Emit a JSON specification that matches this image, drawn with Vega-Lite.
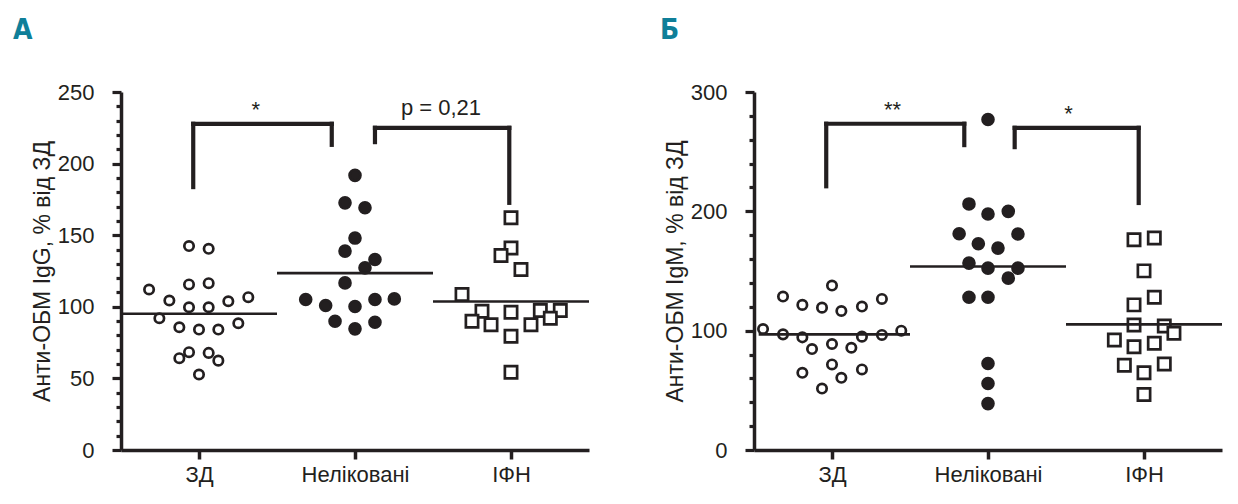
{
  "$schema": "https://vega.github.io/schema/vega-lite/v6.json",
  "background": "white",
  "padding": {"left": 13, "top": 17, "right": 5, "bottom": 5},
  "spacing": 69,
  "config": {
    "view": {"stroke": null},
    "font": "Liberation Sans",
    "axis": {
      "grid": false,
      "labelColor": "#231f20",
      "labelFont": "Liberation Sans",
      "labelFontSize": 22,
      "labelOverlap": false,
      "labelFlush": false,
      "titleFont": "Liberation Sans",
      "titleFontSize": 23,
      "titleFontWeight": "normal",
      "titleColor": "#231f20"
    },
    "title": {
      "font": "DejaVu Sans Condensed, Liberation Sans Narrow, Liberation Sans",
      "fontSize": 28,
      "fontWeight": "bold",
      "color": "#0f7f99",
      "anchor": "start",
      "frame": "group"
    }
  },
  "datasets": {
    "points": [
      {"panel": "A", "group": "ЗД", "x": 0.936, "y": 142.4},
      {"panel": "A", "group": "ЗД", "x": 1.062, "y": 140.5},
      {"panel": "A", "group": "ЗД", "x": 0.936, "y": 115.6},
      {"panel": "A", "group": "ЗД", "x": 1.062, "y": 116.5},
      {"panel": "A", "group": "ЗД", "x": 0.68, "y": 112.1},
      {"panel": "A", "group": "ЗД", "x": 0.81, "y": 104.4},
      {"panel": "A", "group": "ЗД", "x": 0.936, "y": 99.7},
      {"panel": "A", "group": "ЗД", "x": 1.062, "y": 99.7},
      {"panel": "A", "group": "ЗД", "x": 1.188, "y": 103.9},
      {"panel": "A", "group": "ЗД", "x": 1.316, "y": 106.7},
      {"panel": "A", "group": "ЗД", "x": 0.746, "y": 92.0},
      {"panel": "A", "group": "ЗД", "x": 0.874, "y": 85.7},
      {"panel": "A", "group": "ЗД", "x": 1.0, "y": 84.1},
      {"panel": "A", "group": "ЗД", "x": 1.124, "y": 84.1},
      {"panel": "A", "group": "ЗД", "x": 1.252, "y": 88.5},
      {"panel": "A", "group": "ЗД", "x": 0.936, "y": 68.3},
      {"panel": "A", "group": "ЗД", "x": 1.062, "y": 67.8},
      {"panel": "A", "group": "ЗД", "x": 0.874, "y": 64.1},
      {"panel": "A", "group": "ЗД", "x": 1.124, "y": 62.4},
      {"panel": "A", "group": "ЗД", "x": 1.0, "y": 52.7},
      {"panel": "A", "group": "Неліковані", "x": 2.0, "y": 191.8},
      {"panel": "A", "group": "Неліковані", "x": 1.936, "y": 172.6},
      {"panel": "A", "group": "Неліковані", "x": 2.064, "y": 169.2},
      {"panel": "A", "group": "Неліковані", "x": 2.0, "y": 148.0},
      {"panel": "A", "group": "Неліковані", "x": 1.936, "y": 138.9},
      {"panel": "A", "group": "Неліковані", "x": 2.128, "y": 133.0},
      {"panel": "A", "group": "Неліковані", "x": 2.064, "y": 127.2},
      {"panel": "A", "group": "Неліковані", "x": 1.936, "y": 116.7},
      {"panel": "A", "group": "Неліковані", "x": 1.684, "y": 105.1},
      {"panel": "A", "group": "Неліковані", "x": 1.812, "y": 100.9},
      {"panel": "A", "group": "Неліковані", "x": 2.0, "y": 100.2},
      {"panel": "A", "group": "Неліковані", "x": 2.128, "y": 105.1},
      {"panel": "A", "group": "Неліковані", "x": 2.252, "y": 105.5},
      {"panel": "A", "group": "Неліковані", "x": 1.872, "y": 89.9},
      {"panel": "A", "group": "Неліковані", "x": 2.128, "y": 89.2},
      {"panel": "A", "group": "Неліковані", "x": 2.0, "y": 84.6},
      {"panel": "A", "group": "ІФН", "x": 3.0, "y": 162.2},
      {"panel": "A", "group": "ІФН", "x": 3.0, "y": 141.0},
      {"panel": "A", "group": "ІФН", "x": 2.936, "y": 135.8},
      {"panel": "A", "group": "ІФН", "x": 3.064, "y": 126.0},
      {"panel": "A", "group": "ІФН", "x": 2.686, "y": 108.6},
      {"panel": "A", "group": "ІФН", "x": 2.814, "y": 96.9},
      {"panel": "A", "group": "ІФН", "x": 3.0, "y": 96.2},
      {"panel": "A", "group": "ІФН", "x": 3.188, "y": 97.4},
      {"panel": "A", "group": "ІФН", "x": 3.316, "y": 97.4},
      {"panel": "A", "group": "ІФН", "x": 2.75, "y": 89.9},
      {"panel": "A", "group": "ІФН", "x": 2.872, "y": 87.4},
      {"panel": "A", "group": "ІФН", "x": 3.128, "y": 87.4},
      {"panel": "A", "group": "ІФН", "x": 3.252, "y": 92.0},
      {"panel": "A", "group": "ІФН", "x": 3.0, "y": 79.4},
      {"panel": "A", "group": "ІФН", "x": 3.0, "y": 54.3},
      {"panel": "B", "group": "ЗД", "x": 1.0, "y": 137.8},
      {"panel": "B", "group": "ЗД", "x": 0.686, "y": 128.6},
      {"panel": "B", "group": "ЗД", "x": 0.81, "y": 121.6},
      {"panel": "B", "group": "ЗД", "x": 0.936, "y": 119.3},
      {"panel": "B", "group": "ЗД", "x": 1.06, "y": 116.5},
      {"panel": "B", "group": "ЗД", "x": 1.192, "y": 120.2},
      {"panel": "B", "group": "ЗД", "x": 1.32, "y": 126.6},
      {"panel": "B", "group": "ЗД", "x": 0.558, "y": 101.4},
      {"panel": "B", "group": "ЗД", "x": 0.686, "y": 96.9},
      {"panel": "B", "group": "ЗД", "x": 0.81, "y": 94.4},
      {"panel": "B", "group": "ЗД", "x": 0.872, "y": 84.6},
      {"panel": "B", "group": "ЗД", "x": 1.0, "y": 88.8},
      {"panel": "B", "group": "ЗД", "x": 1.124, "y": 85.7},
      {"panel": "B", "group": "ЗД", "x": 1.192, "y": 95.0},
      {"panel": "B", "group": "ЗД", "x": 1.32, "y": 96.4},
      {"panel": "B", "group": "ЗД", "x": 1.444, "y": 100.0},
      {"panel": "B", "group": "ЗД", "x": 1.0, "y": 71.7},
      {"panel": "B", "group": "ЗД", "x": 0.81, "y": 64.7},
      {"panel": "B", "group": "ЗД", "x": 1.192, "y": 67.5},
      {"panel": "B", "group": "ЗД", "x": 1.06, "y": 60.5},
      {"panel": "B", "group": "ЗД", "x": 0.936, "y": 51.5},
      {"panel": "B", "group": "Неліковані", "x": 2.0, "y": 277.0},
      {"panel": "B", "group": "Неліковані", "x": 1.878, "y": 206.2},
      {"panel": "B", "group": "Неліковані", "x": 2.0, "y": 197.8},
      {"panel": "B", "group": "Неліковані", "x": 2.13, "y": 200.0},
      {"panel": "B", "group": "Неліковані", "x": 1.815, "y": 181.2},
      {"panel": "B", "group": "Неліковані", "x": 2.192, "y": 181.0},
      {"panel": "B", "group": "Неліковані", "x": 1.938, "y": 172.8},
      {"panel": "B", "group": "Неліковані", "x": 2.064, "y": 169.2},
      {"panel": "B", "group": "Неліковані", "x": 1.878, "y": 156.6},
      {"panel": "B", "group": "Неліковані", "x": 2.0, "y": 152.4},
      {"panel": "B", "group": "Неліковані", "x": 2.192, "y": 152.4},
      {"panel": "B", "group": "Неліковані", "x": 2.13, "y": 144.0},
      {"panel": "B", "group": "Неліковані", "x": 1.878, "y": 128.0},
      {"panel": "B", "group": "Неліковані", "x": 2.0, "y": 128.0},
      {"panel": "B", "group": "Неліковані", "x": 2.0, "y": 72.5},
      {"panel": "B", "group": "Неліковані", "x": 2.0, "y": 55.7},
      {"panel": "B", "group": "Неліковані", "x": 2.0, "y": 38.9},
      {"panel": "B", "group": "ІФН", "x": 2.936, "y": 176.2},
      {"panel": "B", "group": "ІФН", "x": 3.066, "y": 177.6},
      {"panel": "B", "group": "ІФН", "x": 3.0, "y": 150.1},
      {"panel": "B", "group": "ІФН", "x": 3.066, "y": 128.0},
      {"panel": "B", "group": "ІФН", "x": 2.936, "y": 121.6},
      {"panel": "B", "group": "ІФН", "x": 2.936, "y": 104.8},
      {"panel": "B", "group": "ІФН", "x": 3.13, "y": 103.9},
      {"panel": "B", "group": "ІФН", "x": 3.192, "y": 97.8},
      {"panel": "B", "group": "ІФН", "x": 2.81, "y": 92.2},
      {"panel": "B", "group": "ІФН", "x": 2.936, "y": 86.6},
      {"panel": "B", "group": "ІФН", "x": 3.066, "y": 89.4},
      {"panel": "B", "group": "ІФН", "x": 2.874, "y": 71.1},
      {"panel": "B", "group": "ІФН", "x": 3.13, "y": 72.0},
      {"panel": "B", "group": "ІФН", "x": 3.0, "y": 64.7},
      {"panel": "B", "group": "ІФН", "x": 3.0, "y": 46.5}
    ],
    "medians": [
      {"panel": "A", "x1": 0.51, "x2": 1.5, "y": 95.1},
      {"panel": "A", "x1": 1.5, "x2": 2.5, "y": 123.5},
      {"panel": "A", "x1": 2.5, "x2": 3.5, "y": 103.7},
      {"panel": "B", "x1": 0.53, "x2": 1.5, "y": 96.9},
      {"panel": "B", "x1": 1.5, "x2": 2.5, "y": 153.8},
      {"panel": "B", "x1": 2.5, "x2": 3.5, "y": 105.3}
    ],
    "brackets": [
      {"panel": "A", "x1": 0.963, "x2": 0.963, "y1": 183.6, "y2": 227.8},
      {"panel": "A", "x1": 0.963, "x2": 1.851, "y1": 227.8, "y2": 227.8},
      {"panel": "A", "x1": 1.851, "x2": 1.851, "y1": 227.8, "y2": 213.1},
      {"panel": "A", "x1": 2.128, "x2": 2.128, "y1": 215.0, "y2": 225.0},
      {"panel": "A", "x1": 2.128, "x2": 2.989, "y1": 225.0, "y2": 225.0},
      {"panel": "A", "x1": 2.989, "x2": 2.989, "y1": 225.0, "y2": 172.6},
      {"panel": "B", "x1": 0.963, "x2": 0.963, "y1": 221.0, "y2": 273.4},
      {"panel": "B", "x1": 0.963, "x2": 1.848, "y1": 273.4, "y2": 273.4},
      {"panel": "B", "x1": 1.848, "x2": 1.848, "y1": 273.4, "y2": 255.5},
      {"panel": "B", "x1": 2.171, "x2": 2.171, "y1": 253.8, "y2": 270.0},
      {"panel": "B", "x1": 2.171, "x2": 2.966, "y1": 270.0, "y2": 270.0},
      {"panel": "B", "x1": 2.966, "x2": 2.966, "y1": 270.0, "y2": 207.0}
    ],
    "labels": [
      {"panel": "A", "x": 1.364, "y": 232.8, "label": "*"},
      {"panel": "A", "x": 2.551, "y": 234.1, "label": "p = 0,21"},
      {"panel": "B", "x": 1.388, "y": 279.2, "label": "**"},
      {"panel": "B", "x": 2.517, "y": 275.8, "label": "*"}
    ]
  },
  "hconcat": [
    {
      "title": {"text": "A", "dx": -108, "offset": 36},
      "width": 468,
      "height": 358,
      "encoding": {
        "x": {"type": "quantitative", "scale": {"domain": [0.5, 3.5], "nice": false, "zero": false},
          "axis": {"values": [1, 2, 3], "title": null, "domain": true, "domainWidth": 3.5, "domainColor": "#231f20", "ticks": true, "tickWidth": 3.5, "tickColor": "#231f20", "tickSize": 9, "labelPadding": 5,
            "labelExpr": "datum.value == 1 ? 'ЗД' : datum.value == 2 ? 'Неліковані' : 'ІФН'"}},
        "y": {"type": "quantitative", "scale": {"domain": [0, 250], "nice": false},
          "axis": {"title": "Анти-ОБМ IgG, % від ЗД", "titlePadding": 3, "labelPadding": 18, "domain": true, "domainWidth": 3.5, "domainColor": "#231f20", "ticks": true, "tickWidth": 3.2, "tickColor": "#231f20",
            "tickSize": {"condition": {"test": "datum.value % 50 === 0", "value": 9}, "value": 5},
            "values": [0, 10, 20, 30, 40, 50, 60, 70, 80, 90, 100, 110, 120, 130, 140, 150, 160, 170, 180, 190, 200, 210, 220, 230, 240, 250],
            "labelExpr": "datum.value % 50 === 0 ? datum.label : ''"}}
      },
      "layer": [
        {
          "data": {"name": "points"},
          "transform": [{"filter": "datum.panel == 'A'"}],
          "mark": {"type": "point", "stroke": "#231f20", "strokeWidth": 2.7, "opacity": 1},
          "encoding": {
            "x": {"field": "x"},
            "y": {"field": "y"},
            "shape": {"field": "group", "type": "nominal", "scale": {"domain": ["ЗД", "Неліковані", "ІФН"], "range": ["circle", "circle", "square"]}, "legend": null},
            "fill": {"field": "group", "type": "nominal", "scale": {"domain": ["ЗД", "Неліковані", "ІФН"], "range": ["#ffffff", "#231f20", "#ffffff"]}, "legend": null},
            "size": {"field": "group", "type": "ordinal", "scale": {"domain": ["ЗД", "Неліковані", "ІФН"], "range": [88, 150, 165]}, "legend": null}
          }
        },
        {
          "data": {"name": "medians"},
          "transform": [{"filter": "datum.panel == 'A'"}],
          "mark": {"type": "rule", "color": "#231f20", "strokeWidth": 2.6},
          "encoding": {
            "x": {"field": "x1"},
            "x2": {"field": "x2"},
            "y": {"field": "y"}
          }
        },
        {
          "data": {"name": "brackets"},
          "transform": [{"filter": "datum.panel == 'A'"}],
          "mark": {"type": "rule", "color": "#231f20", "strokeWidth": 4.2, "strokeCap": "square"},
          "encoding": {
            "x": {"field": "x1"},
            "x2": {"field": "x2"},
            "y": {"field": "y1"},
            "y2": {"field": "y2"}
          }
        },
        {
          "data": {"name": "labels"},
          "transform": [{"filter": "datum.panel == 'A'"}],
          "mark": {"type": "text", "fontSize": 22, "align": "center", "baseline": "alphabetic", "color": "#231f20", "font": "Liberation Sans"},
          "encoding": {
            "x": {"field": "x"},
            "y": {"field": "y"},
            "text": {"field": "label"}
          }
        }
      ]
    },
    {
      "title": {"text": "Б", "dx": -94, "offset": 36},
      "width": 468,
      "height": 358,
      "encoding": {
        "x": {"type": "quantitative", "scale": {"domain": [0.5, 3.5], "nice": false, "zero": false},
          "axis": {"values": [1, 2, 3], "title": null, "domain": true, "domainWidth": 3.5, "domainColor": "#231f20", "ticks": true, "tickWidth": 3.5, "tickColor": "#231f20", "tickSize": 9, "labelPadding": 5,
            "labelExpr": "datum.value == 1 ? 'ЗД' : datum.value == 2 ? 'Неліковані' : 'ІФН'"}},
        "y": {"type": "quantitative", "scale": {"domain": [0, 300], "nice": false},
          "axis": {"title": "Анти-ОБМ IgM, % від ЗД", "titlePadding": 3, "labelPadding": 18, "domain": true, "domainWidth": 3.5, "domainColor": "#231f20", "ticks": true, "tickWidth": 3.2, "tickColor": "#231f20",
            "tickSize": {"condition": {"test": "datum.value % 100 === 0", "value": 9}, "value": 5},
            "values": [0, 20, 40, 60, 80, 100, 120, 140, 160, 180, 200, 220, 240, 260, 280, 300],
            "labelExpr": "datum.value % 100 === 0 ? datum.label : ''"}}
      },
      "layer": [
        {
          "data": {"name": "points"},
          "transform": [{"filter": "datum.panel == 'B'"}],
          "mark": {"type": "point", "stroke": "#231f20", "strokeWidth": 2.7, "opacity": 1},
          "encoding": {
            "x": {"field": "x"},
            "y": {"field": "y"},
            "shape": {"field": "group", "type": "nominal", "scale": {"domain": ["ЗД", "Неліковані", "ІФН"], "range": ["circle", "circle", "square"]}, "legend": null},
            "fill": {"field": "group", "type": "nominal", "scale": {"domain": ["ЗД", "Неліковані", "ІФН"], "range": ["#ffffff", "#231f20", "#ffffff"]}, "legend": null},
            "size": {"field": "group", "type": "ordinal", "scale": {"domain": ["ЗД", "Неліковані", "ІФН"], "range": [88, 150, 165]}, "legend": null}
          }
        },
        {
          "data": {"name": "medians"},
          "transform": [{"filter": "datum.panel == 'B'"}],
          "mark": {"type": "rule", "color": "#231f20", "strokeWidth": 2.6},
          "encoding": {
            "x": {"field": "x1"},
            "x2": {"field": "x2"},
            "y": {"field": "y"}
          }
        },
        {
          "data": {"name": "brackets"},
          "transform": [{"filter": "datum.panel == 'B'"}],
          "mark": {"type": "rule", "color": "#231f20", "strokeWidth": 4.2, "strokeCap": "square"},
          "encoding": {
            "x": {"field": "x1"},
            "x2": {"field": "x2"},
            "y": {"field": "y1"},
            "y2": {"field": "y2"}
          }
        },
        {
          "data": {"name": "labels"},
          "transform": [{"filter": "datum.panel == 'B'"}],
          "mark": {"type": "text", "fontSize": 22, "align": "center", "baseline": "alphabetic", "color": "#231f20", "font": "Liberation Sans"},
          "encoding": {
            "x": {"field": "x"},
            "y": {"field": "y"},
            "text": {"field": "label"}
          }
        }
      ]
    }
  ]
}
